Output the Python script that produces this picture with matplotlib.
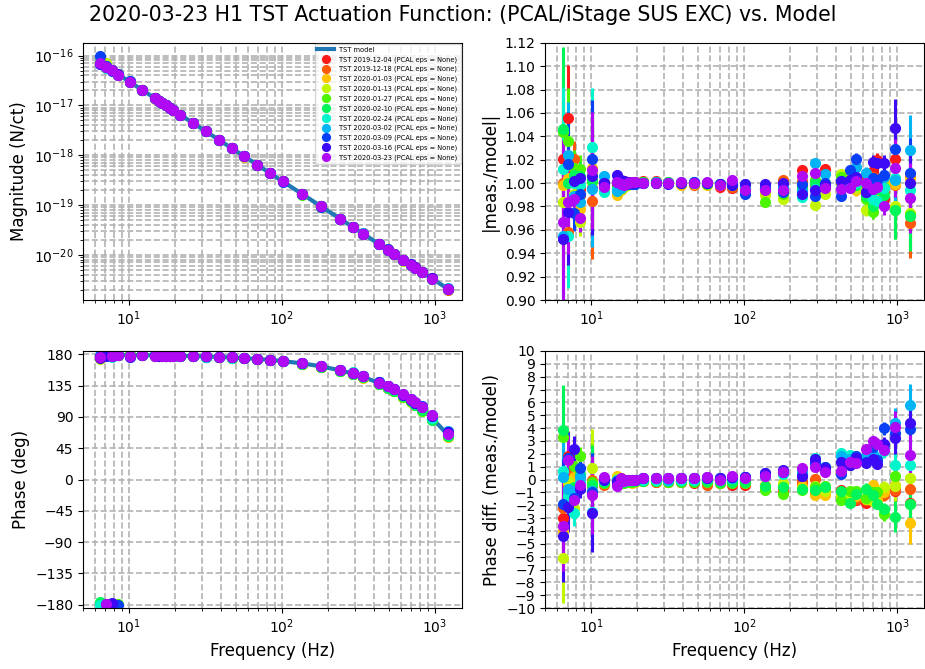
import numpy as np
import matplotlib
matplotlib.use('Agg')
import matplotlib.pyplot as plt

# measurement frequencies (Hz)
freqs = [6.5, 7.1, 7.7, 8.5, 10.1, 12.2, 14.8, 15.6, 16.4, 17.4, 18.4, 19.4,
         21.7, 26.4, 31.8, 38.7, 47.1, 56.8, 69.0, 83.2, 101, 136, 180, 240,
         290, 338, 431, 490, 542, 623, 697, 744, 821, 964, 1213]

# TST model at those frequencies
model_mag = [7.195e-17, 6.031e-17, 5.127e-17, 4.208e-17, 2.980e-17, 2.042e-17,
             1.388e-17, 1.249e-17, 1.130e-17, 1.004e-17, 8.979e-18, 8.077e-18,
             6.456e-18, 4.362e-18, 3.006e-18, 2.030e-18, 1.370e-18, 9.423e-19,
             6.385e-19, 4.392e-19, 2.980e-19, 1.644e-19, 9.383e-20, 5.278e-20,
             3.615e-20, 2.661e-20, 1.637e-20, 1.266e-20, 1.035e-20, 7.832e-21,
             6.258e-21, 5.492e-21, 4.510e-21, 3.271e-21, 2.066e-21]
model_pha = [179.38, 179.32, 179.27, 179.19, 179.04, 178.84, 178.59, 178.51,
             178.44, 178.34, 178.24, 178.15, 177.93, 177.48, 176.97, 176.31,
             175.51, 174.58, 173.42, 172.06, 170.36, 167.03, 162.83, 157.10,
             152.33, 147.75, 138.88, 133.25, 128.29, 120.57, 113.51, 109.02,
             101.68, 88.03, 64.28]

dates = ['2019-12-04', '2019-12-18', '2020-01-03', '2020-01-13', '2020-01-27',
         '2020-02-10', '2020-02-24', '2020-03-02', '2020-03-09', '2020-03-16',
         '2020-03-23']
colors = ['#ff1a1a', '#ff5a0a', '#ffc400', '#c2f500', '#4cf500', '#00f55a',
          '#00f5cc', '#00b4f5', '#0a40f5', '#3c0af5', '#b00af5']

mag_ticks = [1e-20, 1e-19, 1e-18, 1e-17, 1e-16]

# |meas./model| per measurement date
ratio_1204 = [1.021, 1.056, 1.010, 0.995, 0.996, 1.001, 0.998, 1.000, 1.002, 1.001, 1.000, 1.001,
              1.002, 1.002, 1.001, 1.000, 0.999, 0.999, 0.997, 0.996, 0.995, 0.995, 0.998, 1.011,
              1.001, 1.012, 1.000, 0.999, 1.001, 1.006, 1.010, 1.020, 0.986, 1.021, 1.005]
ratio_1218 = [1.000, 0.958, 1.021, 0.990, 0.985, 0.999, 0.996, 0.999, 1.001, 1.000, 0.999, 1.000,
              1.001, 1.001, 1.000, 0.999, 0.998, 0.999, 0.998, 0.997, 0.996, 0.995, 1.003, 1.002,
              0.998, 0.997, 0.999, 1.001, 0.997, 0.998, 1.005, 0.999, 0.992, 0.998, 0.966]
ratio_0103 = [0.998, 1.004, 0.990, 0.978, 1.013, 0.993, 0.990, 0.994, 0.998, 0.999, 1.000, 1.000,
              1.001, 1.000, 1.000, 0.998, 0.999, 0.998, 0.998, 0.998, 0.997, 0.993, 0.996, 0.995,
              0.995, 0.996, 1.000, 1.006, 0.994, 0.992, 0.996, 0.992, 1.002, 0.999, 1.004]
ratio_0113 = [0.984, 1.200, 0.991, 0.967, 1.008, 0.996, 0.993, 0.995, 0.997, 0.998, 0.999, 1.000,
              1.001, 1.000, 1.000, 1.000, 1.000, 0.999, 0.999, 0.998, 0.996, 0.990, 0.986, 0.995,
              0.981, 0.991, 1.008, 0.998, 0.996, 0.977, 0.993, 1.003, 0.998, 0.980, 0.974]
ratio_0127 = [1.044, 1.036, 1.013, 1.012, 1.001, 0.997, 0.995, 0.996, 0.999, 0.999, 1.000, 1.001,
              1.001, 1.001, 1.000, 1.000, 1.000, 0.999, 0.999, 0.998, 0.997, 0.984, 0.991, 0.998,
              1.003, 1.000, 1.005, 0.998, 1.003, 0.986, 0.975, 0.999, 0.997, 0.977, 0.973]
ratio_0210 = [1.046, 1.000, 1.007, 1.006, 1.003, 0.998, 0.996, 0.997, 0.998, 0.999, 1.000, 1.000,
              1.001, 1.001, 1.001, 1.000, 1.000, 1.000, 0.999, 0.998, 0.997, 0.996, 0.994, 0.997,
              1.000, 0.998, 1.002, 1.000, 0.998, 0.989, 0.980, 0.995, 0.990, 0.977, 0.972]
ratio_0224 = [1.012, 0.955, 1.000, 0.998, 1.031, 0.992, 0.994, 0.997, 0.999, 0.999, 1.000, 1.000,
              1.000, 1.000, 1.000, 1.000, 1.000, 1.000, 0.999, 0.999, 0.998, 0.997, 0.993, 0.988,
              0.995, 0.997, 0.996, 1.000, 1.000, 1.000, 0.986, 0.985, 0.996, 1.004, 0.994]
ratio_0302 = [0.955, 1.024, 0.989, 0.984, 0.995, 1.006, 0.993, 0.996, 0.998, 0.999, 1.000, 0.999,
              1.000, 1.001, 1.000, 1.001, 1.001, 1.000, 0.999, 0.999, 0.999, 0.996, 0.997, 0.993,
              1.017, 1.008, 1.002, 0.997, 1.014, 1.009, 1.002, 1.000, 1.005, 1.003, 1.028]
ratio_0309 = [1.390, 1.016, 0.974, 0.991, 1.021, 1.000, 1.001, 0.999, 1.001, 0.999, 0.999, 0.999,
              1.000, 1.000, 1.000, 1.000, 1.001, 1.000, 0.999, 0.998, 0.991, 0.996, 0.992, 0.999,
              0.989, 1.000, 0.989, 1.011, 1.021, 0.992, 1.004, 1.003, 1.007, 1.029, 1.009]
ratio_0316 = [0.952, 0.975, 1.002, 1.004, 1.006, 1.000, 1.007, 1.003, 1.002, 1.001, 1.000, 1.001,
              1.000, 1.000, 0.999, 1.000, 1.000, 1.000, 0.999, 0.998, 0.999, 0.999, 1.000, 0.991,
              0.994, 0.998, 1.002, 1.003, 1.005, 0.992, 1.018, 1.017, 1.017, 1.047, 1.000]
ratio_0323 = [0.967, 0.984, 0.986, 0.970, 1.011, 0.997, 1.001, 0.999, 0.998, 1.000, 1.001, 1.001,
              1.000, 1.000, 1.000, 1.001, 1.000, 1.001, 0.998, 1.003, 0.994, 0.994, 0.994, 1.006,
              1.009, 0.996, 0.995, 0.996, 1.002, 1.000, 0.995, 0.997, 0.980, 1.013, 0.987]

# phase diff (deg) per measurement date
pdiff_1204 = [-3.0, 1.8, 0.8, -0.3, -0.5, -0.3, -0.2, -0.2, -0.1, -0.1, -0.1, -0.1,
              -0.1, -0.2, -0.2, -0.2, -0.3, -0.3, -0.3, -0.4, -0.4, -0.5, -0.8, -0.3,
              -1.1, -0.6, -0.8, -1.2, -1.6, -1.8, -1.2, -1.3, -1.1, -0.9, -1.8]
pdiff_1218 = [-2.2, -0.5, 0.5, -0.6, 0.0, -0.4, -0.1, -0.2, -0.2, -0.1, -0.1, -0.1,
              -0.1, -0.2, -0.2, -0.2, -0.2, -0.4, -0.3, -0.3, -0.3, -0.6, -0.9, -0.1,
              0.05, -0.9, -1.2, -1.4, -1.5, -1.6, -0.9, -1.5, -1.2, -0.8, -0.7]
pdiff_0103 = [-4.0, -0.3, 0.2, -0.55, -0.3, -0.3, 0.3, 0.1, -0.1, -0.2, -0.3, -0.2,
              -0.1, -0.1, -0.1, -0.1, -0.1, -0.1, -0.2, -0.2, -0.3, -0.4, -0.5, -0.5,
              -1.2, -1.2, -1.5, -1.3, -1.3, -1.4, -0.4, -1.5, -1.0, -0.4, -3.4]
pdiff_0113 = [-6.1, -0.1, -2.2, 0.35, 0.93, -0.2, 0.1, 0.0, -0.2, -0.1, -0.2, -0.1,
              -0.1, -0.1, -0.1, -0.1, -0.1, -0.1, -0.1, -0.2, -0.2, -0.6, -0.3, -0.7,
              -0.5, -0.9, -1.3, -1.2, -1.0, -1.5, -1.7, -1.8, -0.6, -0.5, 0.1]
pdiff_0127 = [3.3, -1.3, 1.06, 1.8, -0.2, -0.3, -0.2, -0.3, -0.3, -0.2, -0.2, -0.1,
              -0.1, -0.1, -0.2, -0.2, -0.2, -0.2, -0.3, -0.3, -0.3, -0.8, -1.1, -0.8,
              -0.6, -0.5, -1.6, -0.9, -0.9, -1.4, -1.0, -1.0, -2.7, 0.3, -1.9]
pdiff_0210 = [3.86, -0.8, -0.6, 0.4, -0.4, -0.2, -0.1, -0.2, -0.2, -0.1, -0.1, -0.1,
              -0.1, -0.1, -0.1, -0.1, -0.1, -0.1, -0.2, -0.2, -0.2, -0.5, -0.6, -0.7,
              -0.8, -0.6, -0.9, -1.8, -1.1, -0.7, -1.2, -1.9, -2.3, -2.9, -1.9]
pdiff_0224 = [0.7, -1.3, -2.6, -0.2, -2.5, 0.0, 0.0, -0.1, -0.1, 0.0, 0.0, 0.0,
              0.0, 0.0, 0.0, 0.0, 0.0, 0.1, 0.0, 0.1, 0.2, 0.3, 0.4, 0.5,
              1.7, 0.9, 2.1, 1.9, 1.5, 1.6, 1.7, 1.4, 2.2, 1.1, 1.1]
pdiff_0302 = [0.23, -0.7, -0.9, 0.2, -0.9, 0.1, 0.0, 0.0, 0.0, 0.0, 0.0, 0.0,
              0.1, 0.1, 0.0, 0.1, 0.1, 0.1, 0.1, 0.1, 0.2, 0.3, 0.6, 0.7,
              1.4, 1.0, 1.8, 1.6, 1.7, 1.8, 2.0, 1.6, 2.5, 4.4, 5.8]
pdiff_0309 = [-1.9, 1.7, -1.4, 0.9, -0.95, 0.1, -0.1, 0.0, 0.0, 0.0, 0.0, 0.0,
              0.1, 0.1, 0.1, 0.1, 0.1, 0.2, 0.1, 0.2, 0.2, 0.5, 0.6, 0.3,
              1.3, 1.0, 0.4, 1.1, 1.8, 1.4, 2.5, 1.5, 4.0, 3.6, 3.9]
pdiff_0316 = [-4.43, -2.1, 2.4, -0.7, -2.6, 0.0, -0.2, -0.1, 0.0, 0.0, 0.0, 0.0,
              0.1, 0.1, 0.1, 0.1, 0.1, 0.1, 0.1, 0.2, 0.2, 0.5, 0.75, 0.3,
              1.6, 0.9, 1.4, 1.1, 1.7, 1.3, 1.6, 1.2, 2.8, 3.2, 4.4]
pdiff_0323 = [-3.65, 1.5, -1.6, -0.4, -1.2, 0.2, -0.5, 0.1, -0.1, 0.0, 0.0, 0.0,
              0.1, 0.1, 0.1, 0.1, 0.1, 0.2, 0.0, 0.3, 0.1, 0.3, 0.55, 0.9,
              1.0, 0.6, 0.7, 1.4, 1.3, 2.4, 3.0, 2.8, 2.3, 4.1, 1.9]

# typical uncertainties at each frequency
ratio_err = [0.07, 0.045, 0.015, 0.012, 0.05, 0.003, 0.002, 0.002, 0.002, 0.002, 0.002, 0.002,
             0.0015, 0.0015, 0.0015, 0.0015, 0.0015, 0.0015, 0.0015, 0.0015, 0.002, 0.003, 0.003, 0.003,
             0.004, 0.003, 0.004, 0.004, 0.005, 0.005, 0.006, 0.006, 0.007, 0.025, 0.03]
pdiff_err = [3.5, 2.0, 1.0, 0.7, 3.0, 0.2, 0.15, 0.15, 0.15, 0.15, 0.15, 0.15,
             0.1, 0.1, 0.1, 0.1, 0.1, 0.1, 0.1, 0.1, 0.12, 0.2, 0.2, 0.2,
             0.25, 0.25, 0.3, 0.3, 0.3, 0.4, 0.4, 0.4, 0.5, 1.2, 1.6]

ratios = [ratio_1204, ratio_1218, ratio_0103, ratio_0113, ratio_0127, ratio_0210,
          ratio_0224, ratio_0302, ratio_0309, ratio_0316, ratio_0323]
pdiffs = [pdiff_1204, pdiff_1218, pdiff_0103, pdiff_0113, pdiff_0127, pdiff_0210,
          pdiff_0224, pdiff_0302, pdiff_0309, pdiff_0316, pdiff_0323]

fig, axs = plt.subplots(2, 2, figsize=(9.25, 6.69), dpi=100)
fig.subplots_adjust(left=0.0897, right=0.999, bottom=0.091, top=0.936,
                    wspace=0.22, hspace=0.198)
fig.suptitle('2020-03-23 H1 TST Actuation Function: (PCAL/iStage SUS EXC) vs. Model',
             fontsize=14.8, y=0.992)

f = np.array(freqs)
axs[0, 0].loglog(f, model_mag, color='#1f77b4', lw=3, label='TST model')
axs[1, 0].semilogx(f, model_pha, color='#1f77b4', lw=3)

for i in range(len(dates)):
    r = np.array(ratios[i])
    p = np.array(pdiffs[i])
    meas_mag = np.array(model_mag) * r
    meas_pha = (np.array(model_pha) + p + 180) % 360 - 180
    lab = 'TST %s (PCAL eps = None)' % dates[i]
    axs[0, 0].loglog(f, meas_mag, 'o', color=colors[i], ms=7, label=lab)
    axs[1, 0].semilogx(f, meas_pha, 'o', color=colors[i], ms=7)
    axs[0, 1].errorbar(f, r, yerr=np.array(ratio_err), fmt='o', color=colors[i],
                       ms=7, elinewidth=2.2, capsize=0)
    axs[1, 1].errorbar(f, p, yerr=np.array(pdiff_err), fmt='o', color=colors[i],
                       ms=7, elinewidth=2.2, capsize=0)

for ax in axs.flat:
    ax.set_xscale('log')
    ax.set_xlim(5, 1500)
    ax.grid(True, which='both', ls='--', color='0.7', lw=1.2)
    ax.tick_params(labelsize=10)

axs[0, 0].set_ylim(10**-20.91, 10**-15.742)
axs[0, 0].set_yticks(mag_ticks)
axs[0, 0].set_ylabel('Magnitude (N/ct)', fontsize=12)
axs[0, 0].legend(loc='upper right', fontsize=4.8, markerscale=0.8, handlelength=2.5,
                 borderaxespad=0.2)

axs[0, 1].set_ylim(0.9, 1.12)
axs[0, 1].set_yticks(np.arange(0.90, 1.1201, 0.02))
axs[0, 1].set_ylabel('|meas./model|', fontsize=12)

axs[1, 0].set_ylim(-185, 185)
axs[1, 0].set_yticks(np.arange(-180, 181, 45))
axs[1, 0].set_ylabel('Phase (deg)', fontsize=12)
axs[1, 0].set_xlabel('Frequency (Hz)', fontsize=12)

axs[1, 1].set_ylim(-10, 10)
axs[1, 1].set_yticks(np.arange(-10, 11, 1))
axs[1, 1].set_ylabel('Phase diff. (meas./model)', fontsize=12)
axs[1, 1].set_xlabel('Frequency (Hz)', fontsize=12)

fig.savefig('out.png')
